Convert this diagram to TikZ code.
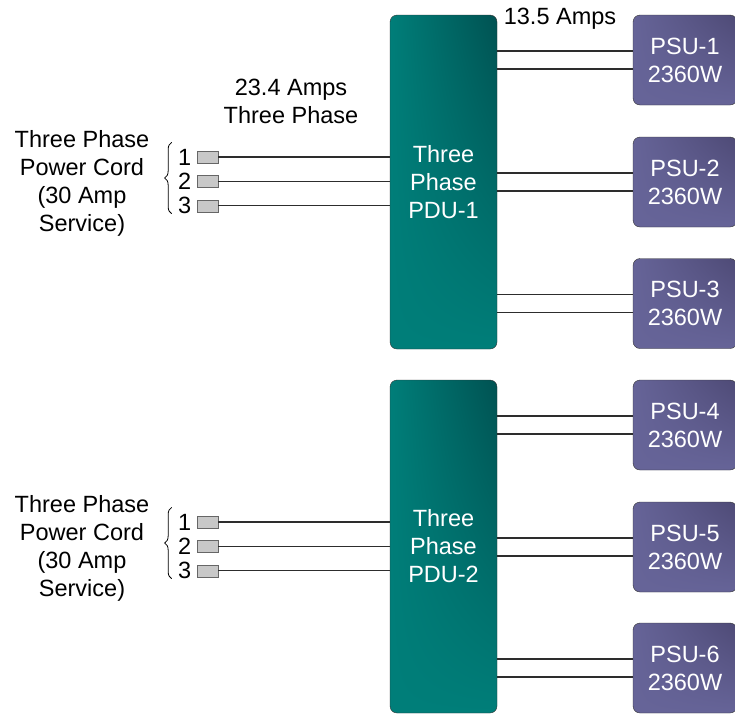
\documentclass[tikz,border=0pt]{standalone}
\usepackage{fontspec}
\setmainfont{Liberation Sans}
\usetikzlibrary{positioning, decorations.pathreplacing, shadings}
\definecolor{pduteal}{RGB}{0,126,121}
\definecolor{pdudark}{RGB}{0,82,82}
\definecolor{psublue}{RGB}{102,100,152}
\definecolor{psudark}{RGB}{78,74,118}
\definecolor{pluggray}{RGB}{200,200,200}
\definecolor{wiregray}{RGB}{45,45,45}

\begin{document}
\begin{tikzpicture}[x=1pt, y=-1pt,
        pdu/.style={rectangle, rounded corners=7pt, draw=black!80, upper left=pduteal, lower left=pduteal, lower right=pduteal, upper right=pdudark, minimum width=107pt, minimum height=334pt, text=white, align=center, font=\fontsize{23.5}{28}\selectfont},
        psu/.style={rectangle, rounded corners=7pt, draw=black!80, upper left=psublue, lower left=psublue, lower right=psublue, upper right=psudark, minimum width=104pt, minimum height=90pt, text=white, align=center, font=\fontsize{23.5}{28}\selectfont},
        plug/.style={rectangle, draw=black!60, fill=pluggray, minimum width=21pt, minimum height=12pt, inner sep=0pt},
        label/.style={align=center, font=\fontsize{23.5}{28}\selectfont},
        wire/.style={draw=wiregray, line width=1.1pt},
        brace/.style={draw=black, line width=0.8pt, decorate, decoration={brace, amplitude=7pt}}
    ]
        \useasboundingbox (0,0) rectangle (735,713);
        % power distribution units
        \node[pdu] (pdu1) at (443.5,182) {Three\\Phase\\PDU-1};
        \node[pdu, minimum height=333pt] (pdu2) at (443.5,546.5) {Three\\Phase\\PDU-2};
        % power supplies
        \node[psu] (psu1) at (685,60) {PSU-1\\2360W};
        \node[psu] (psu2) at (685,182) {PSU-2\\2360W};
        \node[psu] (psu3) at (685,303.5) {PSU-3\\2360W};
        \node[psu] (psu4) at (685,425) {PSU-4\\2360W};
        \node[psu] (psu5) at (685,547) {PSU-5\\2360W};
        \node[psu] (psu6) at (685,668) {PSU-6\\2360W};
        % cord plugs
        \node[plug] (plug11) at (207.5,157) {};
        \node[plug, below=12pt of plug11] (plug12) {};
        \node[plug, below=12pt of plug12] (plug13) {};
        \node[plug] (plug21) at (207.5,522) {};
        \node[plug, below=12pt of plug21] (plug22) {};
        \node[plug, below=12pt of plug22] (plug23) {};
        \node[label, left=2pt of plug11] (num11) {1};
        \node[label, left=2pt of plug12] (num12) {2};
        \node[label, left=2pt of plug13] (num13) {3};
        \node[label, left=2pt of plug21] (num21) {1};
        \node[label, left=2pt of plug22] (num22) {2};
        \node[label, left=2pt of plug23] (num23) {3};
        \node[label] (cord1) at (82,183) {Three Phase\\Power Cord\\(30 Amp\\Service)};
        \node[label] (cord2) at (82,548) {Three Phase\\Power Cord\\(30 Amp\\Service)};
        \node[label] (cordamps) at (291,101) {23.4 Amps\\Three Phase};
        \node[label] (psuamps) at (560,19) {13.5 Amps};
        % braces
        \draw[brace] (num13.south west) ++(-3pt,4pt) coordinate (b1) -- ([yshift=3pt]num11.north west -| b1);
        \draw[brace] (num23.south west) ++(-3pt,4pt) coordinate (b2) -- ([yshift=3pt]num21.north west -| b2);
        % cord wires
        \foreach \p in {11,12,13} {
            \draw[wire] (plug\p.east) -- (plug\p.east -| pdu1.west);
        }
        \foreach \p in {21,22,23} {
            \draw[wire] (plug\p.east) -- (plug\p.east -| pdu2.west);
        }
        % supply wires
        \foreach \s/\d in {1/1,2/1,3/1,4/2,5/2,6/2} {
            \draw[wire] ([yshift=9pt]psu\s.west -| pdu\d.east) -- ([yshift=9pt]psu\s.west);
            \draw[wire] ([yshift=-9pt]psu\s.west -| pdu\d.east) -- ([yshift=-9pt]psu\s.west);
        }
    \end{tikzpicture}
\end{document}
